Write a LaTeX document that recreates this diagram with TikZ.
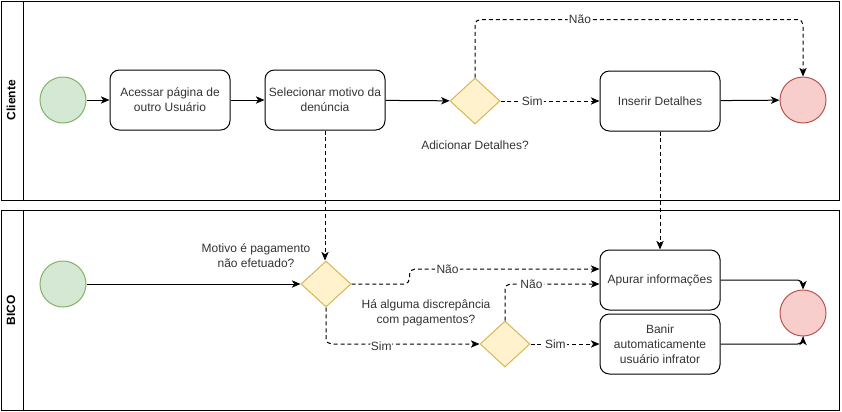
\documentclass[tikz,border=0pt]{standalone}
\usepackage{fontspec}
\setmainfont{Liberation Sans}
\usetikzlibrary{shapes.geometric,arrows.meta}

\definecolor{startfill}{RGB}{213,232,212}
\definecolor{startline}{RGB}{130,179,102}
\definecolor{endfill}{RGB}{248,206,204}
\definecolor{endline}{RGB}{184,84,80}
\definecolor{gatefill}{RGB}{255,242,204}
\definecolor{gateline}{RGB}{214,182,86}
\definecolor{txtgray}{RGB}{51,51,51}

\tikzset{every picture/.style={line width=0.75pt}}
\tikzset{
  task/.style={draw, rounded corners=7pt, minimum width=90pt, minimum height=45pt, inner sep=1pt, align=center, text=txtgray, font=\fontsize{9}{11.2}\selectfont},
  startev/.style={circle, draw=startline, fill=startfill, minimum size=34.5pt, inner sep=0pt},
  endev/.style={circle, draw=endline, fill=endfill, minimum size=34.5pt, inner sep=0pt},
  gateway/.style={diamond, draw=gateline, fill=gatefill, minimum width=37.5pt, minimum height=34.5pt, inner sep=0pt},
  lbl/.style={align=center, text=txtgray, font=\fontsize{9}{11.2}\selectfont, inner sep=0.75pt},
  flowlbl/.style={fill=white, text=txtgray, font=\fontsize{9}{11}\selectfont, inner sep=1pt},
  lanehead/.style={rotate=90, font=\fontsize{9}{11}\selectfont\bfseries},
  flow/.style={-{Stealth[length=6.5pt,width=5.5pt,inset=1.8pt]}},
  msg/.style={flow, dash pattern=on 3pt off 2.2pt, rounded corners=4pt}
}

\begin{document}
\begin{tikzpicture}[x=0.75pt,y=0.75pt,yscale=-1,xscale=1]
\useasboundingbox (0,0) rectangle (842,411);

%Pools
\draw (1,1) rectangle (839,200);
\draw (23,1) -- (23,200);
\draw (1,210) rectangle (839,410);
\draw (23,210) -- (23,410);
% Text Node
\node [lanehead] (cliente) at (11,100) {Cliente};
\node [lanehead] (bico) at (11,310) {BICO};

%Lane Cliente
\node [startev] (start1) at (63,100) {};
\node [task] (acessar) at (170,100) {Acessar página de\\outro Usuário};
\node [task] (selecionar) at (325,100) {Selecionar motivo da\\denúncia};
\node [gateway] (gw1) at (475,101) {};
\node [lbl] (gw1txt) at (475,145) {Adicionar Detalhes?};
\node [task] (inserir) at (660,101) {Inserir Detalhes};
\node [endev] (end1) at (803,100) {};

%Lane BICO
\node [startev] (start2) at (63,284) {};
\node [gateway] (gw2) at (326,284) {};
\node [lbl] (gw2txt) at (256,256) {Motivo é pagamento\\não efetuado?};
\node [lbl] (gw3txt) at (426,313) {Há alguma discrepância\\com pagamentos?};
\node [gateway] (gw3) at (505,344) {};
\node [task] (apurar) at (660,280) {Apurar informações};
\node [task] (banir) at (660,344) {Banir\\automaticamente\\usuário infrator};
\node [endev] (end2) at (803,313) {};

%Straight Lines
\draw [flow] (start1) -- (acessar);
\draw [flow] (acessar) -- (selecionar);
\draw [flow] (selecionar) -- (gw1);
\draw [msg] (gw1.north) -- ++(0,-58) -| node [flowlbl, pos=0.16] {Não} (end1.north);
\draw [msg] (gw1) -- node [flowlbl, pos=0.32] {Sim} (inserir);
\draw [flow] (inserir) -- (end1);
\draw [msg] (selecionar.south) -- (selecionar.south |- gw2.north);
\draw [msg] (inserir.south) -- (apurar.north);

\draw [flow] (start2) -- (gw2);
\draw [msg] (gw2.east) -- ++(58,0) |- node [flowlbl, pos=0.6] {Não} ([yshift=-8.25pt]apurar.west);
\draw [msg] (gw2.south) |- node [flowlbl, pos=0.68, yshift=-2pt] {Sim} (gw3.west);
\draw [msg] (gw3.north) |- node [flowlbl, pos=0.64] {Não} ([yshift=3pt]apurar.west);
\draw [msg] (gw3) -- node [flowlbl, pos=0.36] {Sim} (banir);
\draw [flow, rounded corners=4pt] (apurar.east) -| (end2.north);
\draw [flow, rounded corners=4pt] (banir.east) -| (end2.south);

\end{tikzpicture}
\end{document}
